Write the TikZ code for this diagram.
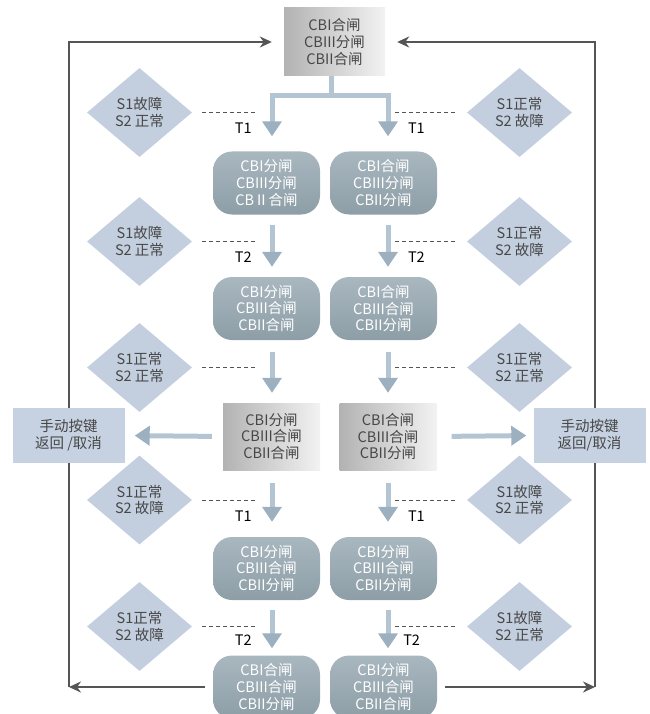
\documentclass[tikz,border=0pt]{standalone}
\usepackage{fontspec}
\usepackage{tikz}
\usetikzlibrary{positioning, arrows.meta, shapes.geometric}
\newfontfamily\cjk{Noto Sans CJK SC}

\definecolor{textgray}{HTML}{474747}
\definecolor{loopgray}{HTML}{555555}
\definecolor{condfill}{HTML}{C3CFDF}
\definecolor{sidefill}{HTML}{C6D1E1}
\definecolor{barreltop}{HTML}{A9B7BF}
\definecolor{barrelbottom}{HTML}{8D9EA7}
\definecolor{shaft}{HTML}{B3C4D3}
\definecolor{arrowhead}{HTML}{9DB0BF}

\tikzset{
  greybox/.style={rectangle, left color=black!30, right color=black!5, text=textgray, align=center, minimum width=97pt, minimum height=67pt, inner sep=0pt},
  barrel/.style={rectangle, rounded corners=19pt, top color=barreltop, bottom color=barrelbottom, text=white, align=center, minimum width=107pt, minimum height=63pt, inner sep=0pt},
  cond/.style={diamond, aspect=1.2, fill=condfill, text=textgray, align=center, minimum width=105pt, minimum height=89pt, inner sep=0pt},
  sidebox/.style={rectangle, fill=sidefill, text=textgray, align=center, minimum width=112pt, minimum height=55pt},
  fatarrow/.style={>={Triangle[width=19pt,length=15pt,color=arrowhead]}, ->, line width=5pt, draw=shaft},
  loopline/.style={>={Stealth[length=12pt,width=11pt]}, ->, line width=2pt, draw=loopgray},
  dashline/.style={draw=loopgray, line width=1pt, dash pattern=on 4pt off 3pt},
}

\begin{document}
\begin{tikzpicture}[x=1pt, y=-1pt, node distance=117pt, font=\cjk\fontsize{14.5}{16.8}\selectfont]
        \useasboundingbox (0,0) rectangle (649,714);

        % Nodes
        \node (top) [greybox, minimum width=101pt, minimum height=68pt] at (334.5,42) {CBI合闸\\CBIII分闸\\CBII合闸};

        \node (r1l) [barrel] at (266.5,183) {CBI分闸\\CBIII分闸\\CBⅡ合闸};
        \node (r1r) [barrel, right of=r1l] {CBI合闸\\CBIII分闸\\CBII分闸};
        \node (r2l) [barrel] at (266.5,308.5) {CBI分闸\\CBIII合闸\\CBII合闸};
        \node (r2r) [barrel, right of=r2l] {CBI合闸\\CBIII合闸\\CBII分闸};
        \node (m3l) [greybox] at (271.5,436.5) {CBI分闸\\CBIII合闸\\CBII合闸};
        \node (m3r) [greybox, right of=m3l, node distance=116.5pt] {CBI合闸\\CBIII合闸\\CBII分闸};
        \node (r4l) [barrel] at (266.5,568.5) {CBI分闸\\CBIII合闸\\CBII分闸};
        \node (r4r) [barrel, right of=r4l] {CBI分闸\\CBIII合闸\\CBII分闸};
        \node (r5l) [barrel] at (266.5,687) {CBI合闸\\CBIII合闸\\CBII分闸};
        \node (r5r) [barrel, right of=r5l] {CBI分闸\\CBIII合闸\\CBII合闸};

        \node (d1l) [cond] at (139.5,112.5) {S1故障\\S2 正常};
        \node (d1r) [cond, right of=d1l, node distance=380pt] {S1正常\\S2 故障};
        \node (d2l) [cond] at (139.5,241.5) {S1故障\\S2 正常};
        \node (d2r) [cond, right of=d2l, node distance=380pt] {S1正常\\S2 故障};
        \node (d3l) [cond] at (139.5,367.5) {S1正常\\S2 正常};
        \node (d3r) [cond, right of=d3l, node distance=380pt] {S1正常\\S2 正常};
        \node (d4l) [cond] at (139.5,500) {S1正常\\S2 故障};
        \node (d4r) [cond, right of=d4l, node distance=380pt] {S1故障\\S2 正常};
        \node (d5l) [cond] at (139.5,626.5) {S1正常\\S2 故障};
        \node (d5r) [cond, right of=d5l, node distance=380pt] {S1故障\\S2 正常};

        \coordinate (colL) at (272,0);
        \coordinate (colR) at (388,0);
        \coordinate (fork) at (331,96);
        \coordinate (cornerBL) at (69,687);
        \coordinate (cornerBR) at (595,687);

        % Loop back to the top
        \draw[loopline, shorten <=8pt] (r5l.west) -- (cornerBL);
        \draw[loopline, shorten >=12pt] (cornerBL) |- (top.west);
        \draw[loopline, shorten <=8pt] (r5r.east) -- (cornerBR);
        \draw[loopline, shorten >=12pt] (cornerBR) |- (top.east);

        \node (sidel) [sidebox] at (68.5,435.5) {手动按键\\返回 /取消};
        \node (sider) [sidebox, right of=sidel, node distance=521pt] {手动按键\\返回/取消};

        % Arrows
        \draw[fatarrow, shorten >=15pt] (top.south -| fork) -- (fork) -| (r1l.north -| colL);
        \draw[fatarrow, shorten >=15pt] (fork) -| (r1r.north -| colR);

        \draw[fatarrow, shorten <=10pt, shorten >=10pt] (r1l.south -| colL) -- (r2l.north -| colL);
        \draw[fatarrow, shorten <=10pt, shorten >=10pt] (r1r.south -| colR) -- (r2r.north -| colR);
        \draw[fatarrow, shorten <=12pt, shorten >=10pt] (r2l.south -| colL) -- (m3l.north -| colL);
        \draw[fatarrow, shorten <=12pt, shorten >=10pt] (r2r.south -| colR) -- (m3r.north -| colR);
        \draw[fatarrow, shorten <=13pt, shorten >=15pt] (m3l.south -| colL) -- (r4l.north -| colL);
        \draw[fatarrow, shorten <=13pt, shorten >=15pt] (m3r.south -| colR) -- (r4r.north -| colR);
        \draw[fatarrow, shorten <=10pt, shorten >=7pt] (r4l.south -| colL) -- (r5l.north -| colL);
        \draw[fatarrow, shorten <=10pt, shorten >=7pt] (r4r.south -| colR) -- (r5r.north -| colR);

        \draw[fatarrow, shorten <=11pt, shorten >=10pt] (m3l.west) -- (sidel.east);
        \draw[fatarrow, shorten <=15pt, shorten >=7pt] (m3r.east) -- (sider.west);

        % Conditions
        \draw[dashline, shorten <=10pt, shorten >=14pt] (d1l.east) -- (d1l.east -| colL) node[pos=.64, yshift=-16pt] {T1};
        \draw[dashline, shorten <=12pt, shorten >=5pt] (d1r.west) -- (d1r.west -| colR) node[pos=.64, yshift=-16pt] {T1};
        \draw[dashline, shorten <=10pt, shorten >=14pt] (d2l.east) -- (d2l.east -| colL) node[pos=.64, yshift=-16pt] {T2};
        \draw[dashline, shorten <=12pt, shorten >=5pt] (d2r.west) -- (d2r.west -| colR) node[pos=.64, yshift=-16pt] {T2};
        \draw[dashline, shorten <=10pt, shorten >=14pt] (d3l.east) -- (d3l.east -| colL);
        \draw[dashline, shorten <=12pt, shorten >=5pt] (d3r.west) -- (d3r.west -| colR);
        \draw[dashline, shorten <=10pt, shorten >=14pt] (d4l.east) -- (d4l.east -| colL) node[pos=.64, yshift=-16pt] {T1};
        \draw[dashline, shorten <=12pt, shorten >=5pt] (d4r.west) -- (d4r.west -| colR) node[pos=.64, yshift=-16pt] {T1};
        \draw[dashline, shorten <=10pt, shorten >=14pt] (d5l.east) -- (d5l.east -| colL) node[pos=.64, yshift=-14pt] {T2};
        \draw[dashline, shorten <=12pt, shorten >=5pt] (d5r.west) -- (d5r.west -| colR) node[pos=.7, yshift=-14pt] {T2};
    \end{tikzpicture}
\end{document}
